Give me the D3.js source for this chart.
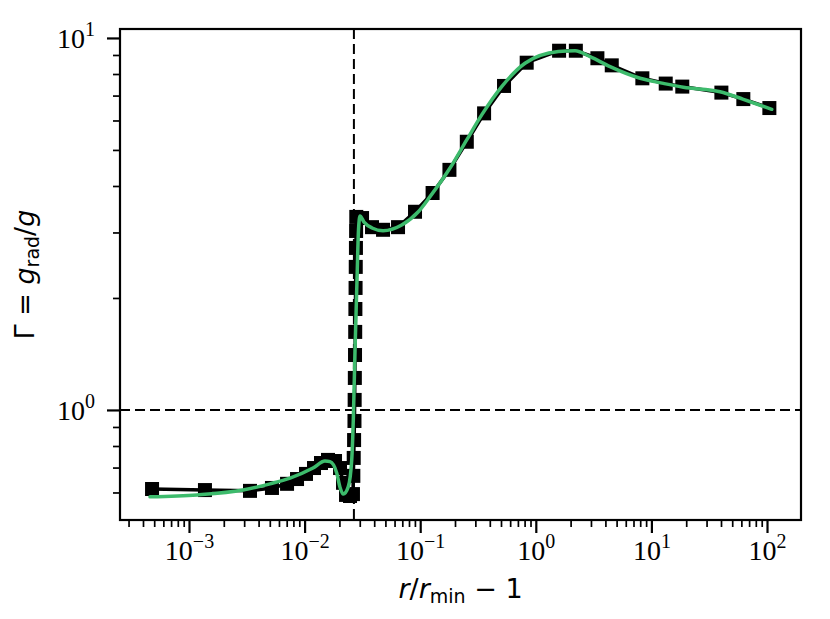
<!DOCTYPE html>
<html>
<head>
<meta charset="utf-8">
<script src="https://cdn.jsdelivr.net/npm/d3@7"></script>
<style>
  body { margin: 0; background: #fff; }
</style>
</head>
<body>
<script>
// simulated profile (black squares) : r/rmin - 1 , Gamma
const markerX = [4.79e-4, 1.374e-3, 3.37e-3, 5.22e-3, 7.05e-3, 8.60e-3, 1.028e-2, 1.206e-2, 1.386e-2, 1.594e-2,
                 1.833e-2, 2.025e-2, 2.149e-2, 2.282e-2, 2.471e-2,
                 2.62e-2, 2.64e-2, 2.66e-2, 2.68e-2, 2.70e-2, 2.71e-2, 2.72e-2, 2.73e-2, 2.74e-2, 2.75e-2,
                 2.76e-2, 2.77e-2, 2.78e-2, 2.79e-2, 2.80e-2,
                 3.14e-2, 3.83e-2, 4.77e-2, 6.43e-2, 9.02e-2, 0.128, 0.179, 0.253, 0.357, 0.531,
                 0.834, 1.59, 2.22, 3.41, 4.54, 8.35, 13.3, 18.5, 40.3, 62.4, 104.8];
const markerY = [0.613, 0.609, 0.606, 0.617, 0.633, 0.652, 0.673, 0.698, 0.720, 0.734,
                 0.729, 0.698, 0.637, 0.591, 0.587,
                 0.594, 0.665, 0.743, 0.830, 0.934, 1.064, 1.219, 1.405, 1.621, 1.868,
                 2.128, 2.424, 2.726, 3.028, 3.303,
                 3.28, 3.10, 3.05, 3.10, 3.41, 3.83, 4.42, 5.26, 6.27, 7.43,
                 8.58, 9.24, 9.24, 8.82, 8.44, 7.79, 7.54, 7.40, 7.13, 6.85, 6.48];

// model curve (green)
const modelX = [4.60e-4, 1.173e-3, 2.93e-3, 5.02e-3, 7.48e-3, 1.182e-2, 1.50e-2, 1.66e-2, 1.896e-2, 2.02e-2,
                2.16e-2, 2.388e-2, 2.556e-2, 2.638e-2, 2.73e-2, 2.84e-2, 2.926e-2, 3.015e-2, 3.265e-2, 3.83e-2,
                4.77e-2, 6.92e-2, 9.63e-2, 0.1216, 0.1811, 0.2526, 0.3404, 0.5071, 0.8066, 1.566,
                2.184, 2.945, 4.39, 7.97, 12.68, 18.89, 39.25, 62.4, 109.9];
const modelY = [0.584, 0.591, 0.609, 0.633, 0.656, 0.698, 0.729, 0.726, 0.677, 0.621,
                0.594, 0.622, 0.734, 0.940, 1.450, 2.236, 3.05, 3.32, 3.20, 3.085,
                3.034, 3.143, 3.41, 3.745, 4.47, 5.32, 6.21, 7.40, 8.55, 9.19,
                9.24, 8.91, 8.37, 7.79, 7.55, 7.37, 7.17, 6.84, 6.43];

const xMajor = [1e-3, 1e-2, 1e-1, 1e0, 1e1, 1e2];
const yMajor = [1e0, 1e1];
const xDomain = [2.53e-4, 196.8];
const yDomain = [0.506, 10.57];
const vLine = 0.0267, hLine = 1;

const margin = { top: 29, right: 29, bottom: 99, left: 120 },
      width = 830 - margin.left - margin.right,
      height = 619 - margin.top - margin.bottom;

const svgRoot = d3.select("body").append("svg")
    .attr("width", 830)
    .attr("height", 619);
const svg = svgRoot.append("g")
    .attr("transform", "translate(" + margin.left + "," + margin.top + ")");

const x = d3.scaleLog().domain(xDomain).range([0, width]);
const y = d3.scaleLog().domain(yDomain).range([height, 0]);

// minor ticks 2..9 in each decade
function minors(dom) {
  const out = [];
  for (let e = Math.floor(Math.log10(dom[0])); e <= Math.ceil(Math.log10(dom[1])); e++)
    for (let k = 2; k <= 9; k++) {
      const v = k * Math.pow(10, e);
      if (v > dom[0] && v < dom[1]) out.push(v);
    }
  return out;
}

const tickFont = "'Liberation Serif', 'DejaVu Serif', serif";

// minor ticks
svg.append("g")
    .attr("transform", "translate(0," + height + ")")
    .call(d3.axisBottom(x).tickValues(minors(xDomain)).tickSize(7).tickSizeOuter(0).tickFormat(""))
    .call(g => g.select(".domain").remove())
    .call(g => g.selectAll("line").attr("stroke-width", 1.7));
svg.append("g")
    .call(d3.axisLeft(y).tickValues(minors(yDomain)).tickSize(7).tickSizeOuter(0).tickFormat(""))
    .call(g => g.select(".domain").remove())
    .call(g => g.selectAll("line").attr("stroke-width", 1.7));

// major ticks
const xAxis = svg.append("g")
    .attr("transform", "translate(0," + height + ")")
    .call(d3.axisBottom(x).tickValues(xMajor).tickSize(13).tickSizeOuter(0))
    .call(g => g.select(".domain").remove())
    .call(g => g.selectAll("line").attr("stroke-width", 2.2));
const yAxis = svg.append("g")
    .call(d3.axisLeft(y).tickValues(yMajor).tickSize(13).tickSizeOuter(0))
    .call(g => g.select(".domain").remove())
    .call(g => g.selectAll("line").attr("stroke-width", 2.2));

function powLabel(sel) {
  sel.text(null)
    .attr("font-family", tickFont)
    .attr("font-size", 28)
    .attr("fill", "#000")
    .each(function(d) {
      const e = Math.round(Math.log10(d));
      const t = d3.select(this);
      t.append("tspan").text("10");
      t.append("tspan").attr("font-size", 20).attr("dy", -12)
        .text(e < 0 ? "\u2212" + (-e) : String(e));
    });
}
xAxis.selectAll(".tick text")
    .attr("y", 40).attr("dy", 0)
    .call(powLabel);
yAxis.selectAll(".tick text")
    .attr("x", -25).attr("dy", 0).attr("y", 9.5)
    .call(powLabel);

// reference lines
svg.append("line")
    .attr("x1", 0).attr("x2", width)
    .attr("y1", y(hLine)).attr("y2", y(hLine))
    .attr("stroke", "#000").attr("stroke-width", 2)
    .attr("stroke-dasharray", "10,5");
svg.append("line")
    .attr("x1", x(vLine)).attr("x2", x(vLine))
    .attr("y1", 0).attr("y2", height)
    .attr("stroke", "#000").attr("stroke-width", 2)
    .attr("stroke-dasharray", "10,5");

// simulation: black line with square markers
const sim = markerX.map((v, i) => [v, markerY[i]]);
svg.append("path")
    .datum(sim)
    .attr("fill", "none")
    .attr("stroke", "#000")
    .attr("stroke-width", 3.5)
    .attr("d", d3.line().x(d => x(d[0])).y(d => y(d[1])));

const ms = 14;
svg.append("g")
  .selectAll("rect")
    .data(sim)
  .enter().append("rect")
    .attr("x", d => x(d[0]) - ms / 2)
    .attr("y", d => y(d[1]) - ms / 2)
    .attr("width", ms)
    .attr("height", ms)
    .attr("fill", "#000");

// model: green curve
const model = modelX.map((v, i) => [v, modelY[i]]);
svg.append("path")
    .datum(model)
    .attr("fill", "none")
    .attr("stroke", "#3dbb6c")
    .attr("stroke-width", 3.5)
    .attr("stroke-linejoin", "round")
    .attr("stroke-linecap", "round")
    .attr("d", d3.line().curve(d3.curveMonotoneX).x(d => x(d[0])).y(d => y(d[1])));

// frame
svg.append("rect")
    .attr("width", width)
    .attr("height", height)
    .attr("fill", "none")
    .attr("stroke", "#000")
    .attr("stroke-width", 2.2);

// axis titles
const labFont = "'DejaVu Sans', sans-serif";
const xl = svg.append("text")
    .attr("x", width / 2)
    .attr("y", height + 78)
    .attr("text-anchor", "middle")
    .attr("font-family", labFont)
    .attr("font-size", 27);
xl.append("tspan").attr("font-style", "italic").text("r");
xl.append("tspan").text("/");
xl.append("tspan").attr("font-style", "italic").text("r");
xl.append("tspan").attr("font-size", 19).attr("dy", 5).text("min");
xl.append("tspan").attr("dy", -5).text(" \u2212 1");

const yl = svgRoot.append("text")
    .attr("transform", "translate(34," + (margin.top + height / 2) + ") rotate(-90)")
    .attr("text-anchor", "middle")
    .attr("font-family", labFont)
    .attr("font-size", 27);
yl.append("tspan").text("\u0393 = ");
yl.append("tspan").attr("font-style", "italic").text("g");
yl.append("tspan").attr("font-size", 19).attr("dy", 5).text("rad");
yl.append("tspan").attr("dy", -5).text("/");
yl.append("tspan").attr("font-style", "italic").text("g");
</script>
</body>
</html>
